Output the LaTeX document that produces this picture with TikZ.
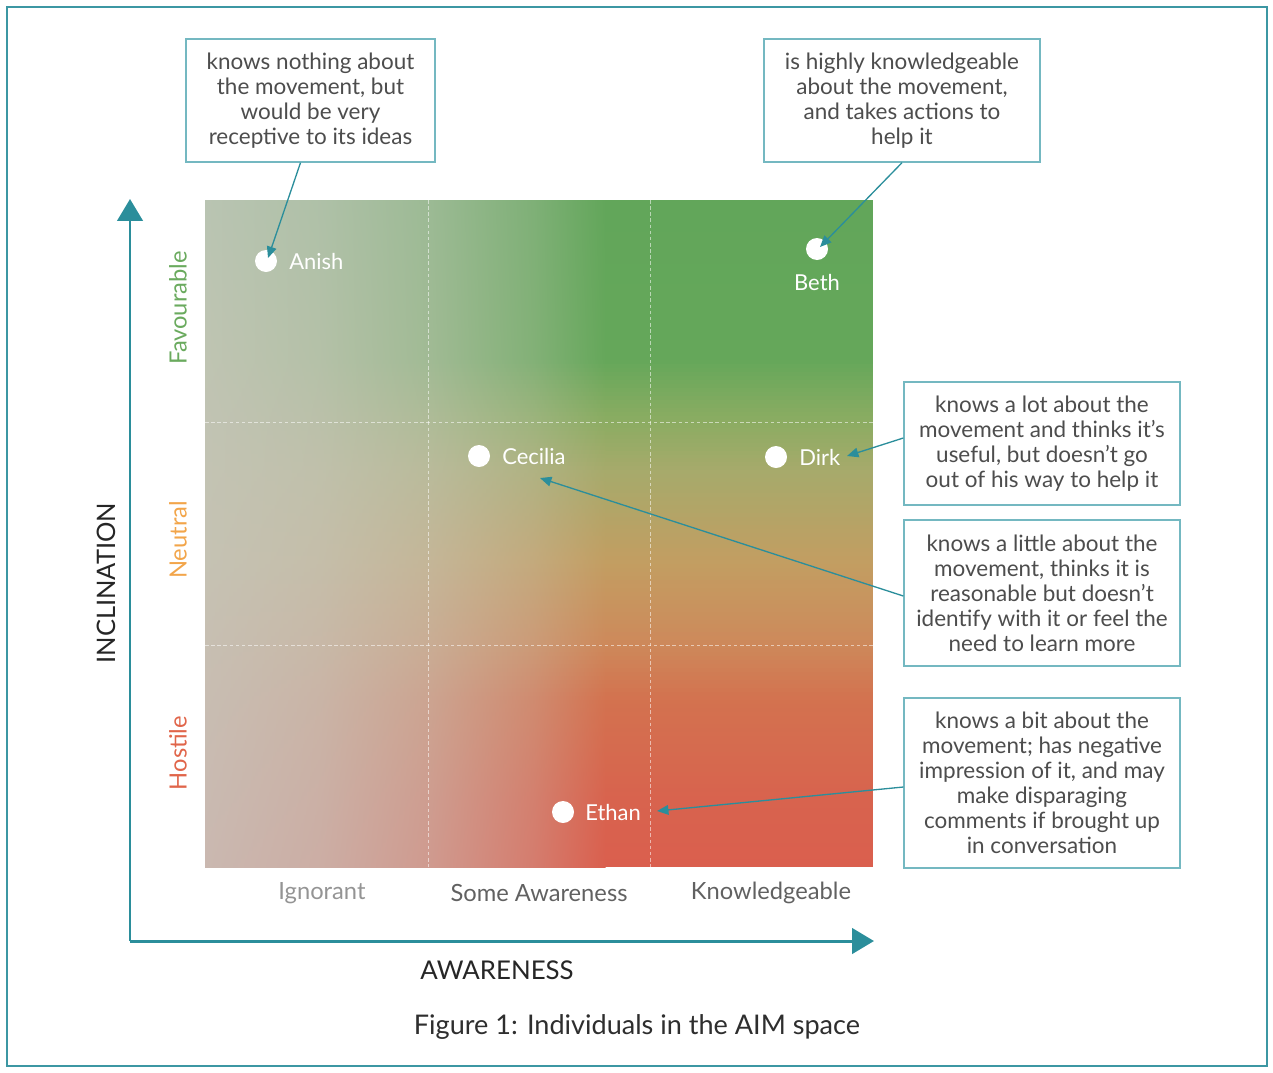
\documentclass[tikz,border=0pt]{standalone}
\usepackage{fontspec}
\setmainfont{Lato}
\usetikzlibrary{arrows.meta,calc}

\definecolor{tealA}{HTML}{2B8E9B}
\definecolor{frameC}{HTML}{3C97A3}
\definecolor{boxline}{HTML}{74B8C1}
\definecolor{txt}{HTML}{4D4D4D}
\definecolor{favC}{HTML}{6AAA5E}
\definecolor{neuC}{HTML}{F2A54A}
\definecolor{hosC}{HTML}{E0654A}
% field colours (right side) at y = 200,360,420,470,560,640,700,800,867
\definecolor{f0}{HTML}{62A65A}
\definecolor{f1}{HTML}{65A75A}
\definecolor{f2}{HTML}{8BAC62}
\definecolor{f3}{HTML}{A6AA6B}
\definecolor{f4}{HTML}{C29E62}
\definecolor{f5}{HTML}{CD8A5B}
\definecolor{f6}{HTML}{D3724F}
\definecolor{f7}{HTML}{D8634E}
\definecolor{f8}{HTML}{DA5F4E}
% grey colours (left edge) at the same heights
\definecolor{g0}{HTML}{B9C4B2}
\definecolor{g1}{HTML}{BFC4B2}
\definecolor{g2}{HTML}{C1C3B3}
\definecolor{g3}{HTML}{C3C3B3}
\definecolor{g4}{HTML}{C5C2B3}
\definecolor{g5}{HTML}{C7BFB2}
\definecolor{g6}{HTML}{C8BDB2}
\definecolor{g7}{HTML}{C9BAB1}
\definecolor{g8}{HTML}{CAB8B0}

\begin{document}
\begin{tikzpicture}[x=0.02cm,y=-0.02cm,
  frame/.style={draw=frameC, line width=1.2pt},
  grid/.style={draw=white, opacity=0.55, dash pattern=on 2pt off 1.5pt, line width=0.5pt},
  dot/.style={circle, fill=white, minimum size=0.44cm, inner sep=0pt},
  lab/.style={text=white, font=\fontsize{12.5}{14}\selectfont, inner sep=0pt},
  callout/.style={draw=boxline, line width=0.8pt, fill=white, text=txt, align=center,
     font=\fontsize{12.8}{14.2}\selectfont, inner sep=0pt},
  conn/.style={draw=tealA, line width=0.75pt, -{Triangle[length=6.5pt,width=5.5pt]}},
  axis/.style={draw=tealA, line width=1.7pt, -{Triangle[length=12.5pt,width=14.5pt]}},
  cat/.style={font=\fontsize{13.5}{15}\selectfont, inner sep=0pt},
]
\useasboundingbox (0,0) rectangle (1273,1072);
\draw[frame] (7,7) rectangle (1267,1066);

% colour field, row by row
\foreach \ya/\yb/\fA/\fB/\gA/\gB in {200/360/f0/f1/g0/g1, 360/420/f1/f2/g1/g2,
   420/470/f2/f3/g2/g3, 470/560/f3/f4/g3/g4, 560/640/f4/f5/g4/g5,
   640/700/f5/f6/g5/g6, 700/800/f6/f7/g6/g7, 800/867/f7/f8/g7/g8} {
  \pgfmathtruncatemacro\n{max(1,round((\yb-\ya)/4))}
  \foreach \j in {1,...,\n} {
    \pgfmathsetmacro\ylo{\ya+(\j-1)*(\yb-\ya)/\n}
    \pgfmathsetmacro\yhi{min(\ya+\j*(\yb-\ya)/\n+0.7,867)}
    \pgfmathtruncatemacro\p{100*(\j-0.5)/\n}
    \colorlet{fc}{\fB!\p!\fA}
    \colorlet{gc}{\gB!\p!\gA}
    \colorlet{m0}{gc!88!fc}
    \colorlet{ma}{gc!66!fc}
    \colorlet{mb}{gc!32!fc}
    \fill[left color=gc, right color=m0] (205,\ylo) rectangle (320.6,\yhi);
    \fill[left color=m0, right color=ma] (320,\ylo) rectangle (430.6,\yhi);
    \fill[left color=ma, right color=mb] (430,\ylo) rectangle (535.6,\yhi);
    \fill[left color=mb, right color=fc] (535,\ylo) rectangle (605.6,\yhi);
    \fill[fc] (605,\ylo) rectangle (873,\yhi);
  }
}

% grid
\draw[grid] (428,200) -- (428,867);
\draw[grid] (650,200) -- (650,867);
\draw[grid] (205,422) -- (873,422);
\draw[grid] (205,645) -- (873,645);

% axes
\coordinate (origin) at (130,941);
\coordinate (ytip) at (130,199);
\coordinate (xtip) at (874,941);
\draw[axis] (origin) -- (ytip);
\draw[axis] (origin) -- (xtip);
\node[font=\fontsize{14.5}{16}\selectfont, text=black!85, rotate=90] (incl) at (106,583) {INCLINATION};
\node[font=\fontsize{14.7}{16}\selectfont, text=black!85] (aware) at (497,970) {AWARENESS};

\node[cat, text=favC, rotate=90] (fav) at (178,308) {Favourable};
\node[cat, text=neuC, rotate=90] (neu) at (178,540) {Neutral};
\node[cat, text=hosC, rotate=90] (hos) at (178,753) {Hostile};

\node[cat, text=black!42] (ign) at (322,893) {Ignorant};
\node[cat, text=black!62] (some) at (539,893) {Some Awareness};
\node[cat, text=black!62] (know) at (771,893) {Knowledgeable};

% individuals
\node[dot] (anish) at (266,261) {};
\node[lab, anchor=west] (anishl) at (289,261) {Anish};
\node[dot] (beth) at (817,249) {};
\node[lab] (bethl) at (817,282) {Beth};
\node[dot] (cecilia) at (479,456) {};
\node[lab, anchor=west] (cecilial) at (502,456) {Cecilia};
\node[dot] (dirk) at (776,457) {};
\node[lab, anchor=west] (dirkl) at (799,457) {Dirk};
\node[dot] (ethan) at (563,812) {};
\node[lab, anchor=west] (ethanl) at (585,812) {Ethan};

% callouts
\node[callout, minimum width=4.98cm, minimum height=2.46cm] (b1) at (310.5,100.5)
  {knows nothing about\\the movement, but\\would be very\\receptive to its ideas};
\node[callout, minimum width=5.52cm, minimum height=2.46cm] (b2) at (902,100.5)
  {is highly knowledgeable\\about the movement,\\and takes actions to\\help it};
\node[callout, minimum width=5.52cm, minimum height=2.46cm] (b3) at (1042,443.5)
  {knows a lot about the\\movement and thinks it’s\\useful, but doesn’t go\\out of his way to help it};
\node[callout, minimum width=5.52cm, minimum height=2.92cm] (b4) at (1042,593)
  {knows a little about the\\movement, thinks it is\\reasonable but doesn’t\\identify with it or feel the\\need to learn more};
\node[callout, minimum width=5.52cm, minimum height=3.4cm] (b5) at (1042,783)
  {knows a bit about the\\movement; has negative\\impression of it, and may\\make disparaging\\comments if brought up\\in conversation};

% connectors
\coordinate (anishpt) at (268,258);
\coordinate (bethpt) at (820,247);
\coordinate (dirkpt) at (847,456);
\coordinate (ceciliapt) at (540,478);
\coordinate (ethanpt) at (657,811);
\draw[conn] ([xshift=-0.2cm]b1.south) -- (anishpt);
\draw[conn] (b2.south) -- (bethpt);
\draw[conn] ([yshift=0.11cm]b3.west) -- (dirkpt);
\draw[conn] ([yshift=-0.06cm]b4.west) -- (ceciliapt);
\draw[conn] ([yshift=-0.08cm]b5.west) -- (ethanpt);

% caption
\node[font=\fontsize{15.4}{17}\selectfont, text=black!82] (cap) at (637,1027) {Figure 1: Individuals in the AIM space};
\end{tikzpicture}
\end{document}
